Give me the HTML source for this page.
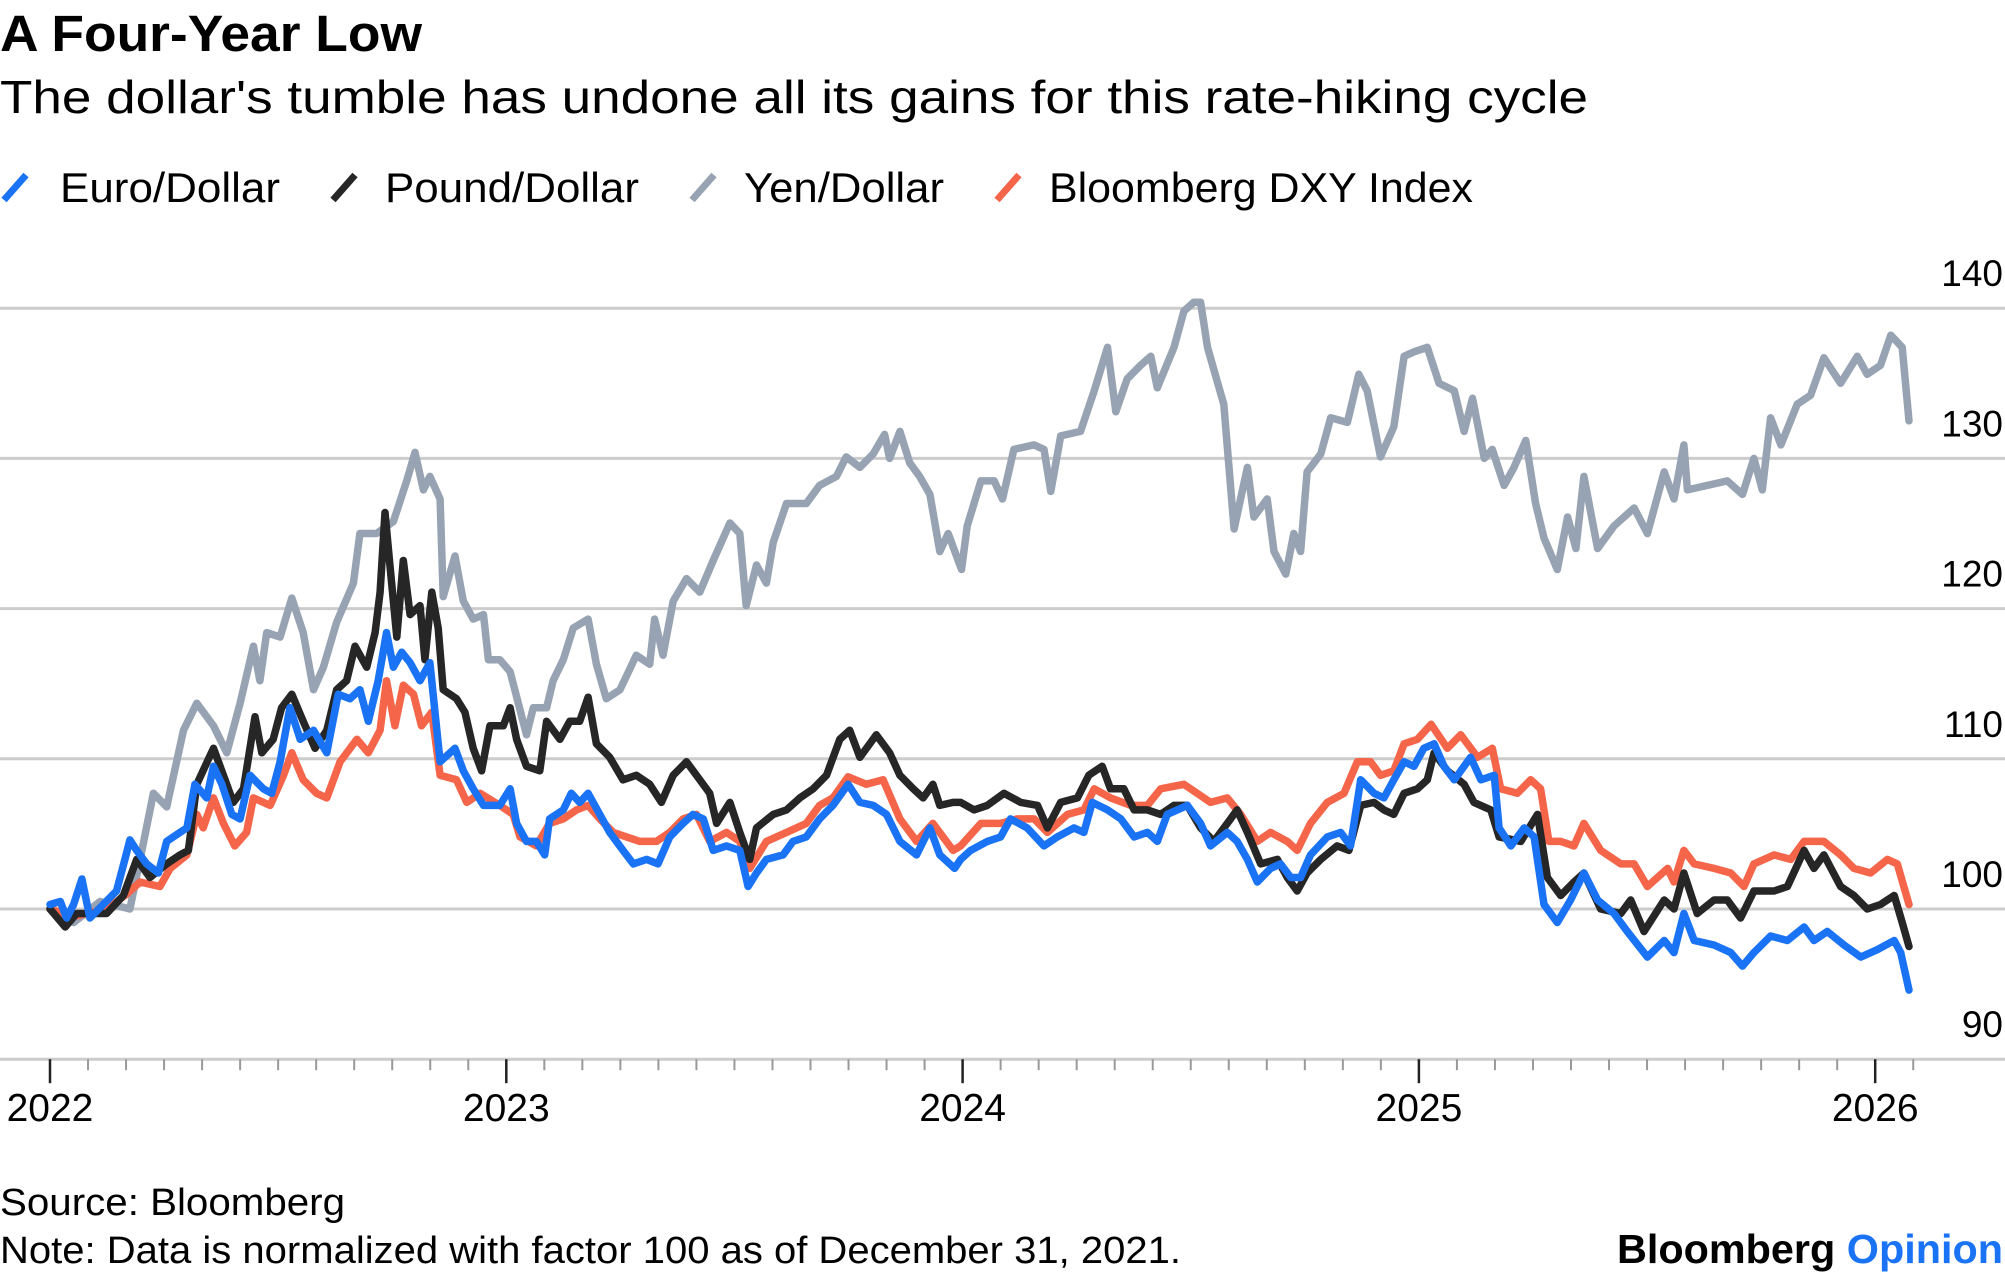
<!DOCTYPE html>
<html><head><meta charset="utf-8"><title>A Four-Year Low</title>
<style>
html,body{margin:0;padding:0;background:#fff;}
svg{display:block;font-family:"Liberation Sans",Arial,sans-serif;}
</style></head>
<body>
<svg id="chart" width="2005" height="1278" viewBox="0 0 2005 1278" xmlns="http://www.w3.org/2000/svg">
  <text x="0" y="51" font-size="51" font-weight="bold" fill="#000" textLength="422" lengthAdjust="spacingAndGlyphs">A Four-Year Low</text>
  <text x="0" y="113" font-size="46" fill="#000" textLength="1588" lengthAdjust="spacingAndGlyphs">The dollar's tumble has undone all its gains for this rate-hiking cycle</text>
  <g>
    <g>
      <line x1="4" y1="200" x2="26" y2="175" stroke="#1a73f5" stroke-width="7" stroke-linecap="butt"/>
      <text x="60" y="202" font-size="42" textLength="220" lengthAdjust="spacingAndGlyphs">Euro/Dollar</text>
    </g>
    <g>
      <line x1="333" y1="200" x2="355" y2="175" stroke="#262626" stroke-width="7"/>
      <text x="385" y="202" font-size="42" textLength="254" lengthAdjust="spacingAndGlyphs">Pound/Dollar</text>
    </g>
    <g>
      <line x1="692" y1="200" x2="714" y2="175" stroke="#97a3b2" stroke-width="7"/>
      <text x="744" y="202" font-size="42" textLength="200" lengthAdjust="spacingAndGlyphs">Yen/Dollar</text>
    </g>
    <g>
      <line x1="997" y1="200" x2="1019" y2="175" stroke="#f5654a" stroke-width="7"/>
      <text x="1049" y="202" font-size="42" textLength="424" lengthAdjust="spacingAndGlyphs">Bloomberg DXY Index</text>
    </g>
  </g>
  <g id="grid"></g>
  <g id="yaxis"></g>
  <g id="xaxis"></g>
  <g id="series"></g>
  <text x="0" y="1215" font-size="38" textLength="345" lengthAdjust="spacingAndGlyphs">Source: Bloomberg</text>
  <text x="0" y="1263" font-size="38" textLength="1181" lengthAdjust="spacingAndGlyphs">Note: Data is normalized with factor 100 as of December 31, 2021.</text>
  <text x="1617" y="1263" font-size="41" font-weight="bold" textLength="386" lengthAdjust="spacingAndGlyphs">Bloomberg <tspan fill="#1a73f5">Opinion</tspan></text>
</svg>
<script>
// ---- data (months since Jan 1 2022, index value) ----
const yTicks = [90, 100, 110, 120, 130, 140];
const yearLabels = ["2022", "2023", "2024", "2025", "2026"];
const yenMonths = [0,0.62,1.32,2.1,2.37,2.72,3.07,3.51,3.86,4.3,4.65,5.0,5.35,5.52,5.7,6.05,6.36,6.66,6.93,7.19,7.54,7.98,8.15,8.59,9.03,9.38,9.6,9.82,9.99,10.26,10.34,10.65,10.87,11.13,11.4,11.53,11.83,12.1,12.53,12.71,13.06,13.23,13.5,13.76,14.15,14.37,14.63,14.99,15.42,15.77,15.9,16.12,16.39,16.74,17.09,17.44,17.88,18.14,18.31,18.58,18.84,19.02,19.37,19.89,20.24,20.68,20.94,21.3,21.65,21.95,22.08,22.35,22.61,22.87,23.14,23.4,23.62,23.97,24.12,24.48,24.83,25.05,25.35,25.88,26.14,26.32,26.58,27.1,27.46,27.81,28.03,28.33,28.68,28.95,29.12,29.56,29.82,30.08,30.26,30.44,30.61,30.87,31.14,31.49,31.66,32.01,32.19,32.5,32.71,32.89,33.06,33.42,33.68,34.12,34.42,34.64,34.99,35.34,35.61,35.87,36.22,36.53,36.93,37.19,37.41,37.72,37.93,38.24,38.5,38.81,39.07,39.29,39.64,39.91,40.13,40.34,40.7,41.13,41.66,42.01,42.45,42.71,42.97,43.06,43.59,44.11,44.51,44.81,45.03,45.25,45.52,45.95,46.3,46.65,47.09,47.53,47.79,48.14,48.41,48.71,48.89];
const yenValues = [100,99.1,100.5,100,103.3,107.7,106.8,111.9,113.7,112.2,110.4,113.7,117.5,115.2,118.4,118.1,120.7,118.4,114.6,116.1,119.1,121.7,125,125,125.8,128.5,130.4,127.9,128.8,127.3,120.8,123.5,120.5,119.3,119.6,116.6,116.6,115.8,111.6,113.4,113.4,115.2,116.6,118.7,119.3,116.3,114,114.6,116.9,116.3,119.3,116.9,120.5,122,121.1,123.2,125.7,125,120.2,122.9,121.7,124.4,127,127,128.2,128.8,130.1,129.4,130.3,131.6,130,131.8,129.7,128.8,127.6,123.8,125,122.6,125.5,128.5,128.5,127.3,130.6,130.9,130.6,127.8,131.5,131.8,134.5,137.4,133.1,135.3,136.2,136.8,134.7,137.4,139.8,140.4,140.4,137.4,135.9,133.6,125.3,129.4,126.1,127.3,123.8,122.3,125,123.8,129.1,130.3,132.7,132.4,135.6,134.5,130.1,132.1,136.8,137.1,137.4,135,134.5,131.8,134,130,130.6,128.2,129.4,131.2,127,124.7,122.6,126.1,124,128.8,124,125.5,126.7,125,129.1,127.3,130.9,127.9,128.2,128.5,127.6,130,127.9,132.7,130.9,133.6,134.2,136.7,135,136.8,135.6,136.2,138.2,137.4,132.5];
const euroMonths = [0,0.27,0.44,0.62,0.84,1.05,1.4,1.75,1.97,2.1,2.28,2.54,2.85,3.07,3.42,3.6,3.81,4.12,4.3,4.52,4.78,5.0,5.26,5.61,5.83,6.05,6.31,6.58,6.93,7.28,7.58,7.89,8.15,8.37,8.63,8.85,9.03,9.25,9.47,9.73,9.99,10.26,10.65,10.87,11.13,11.4,11.83,12.1,12.27,12.53,12.79,13.01,13.14,13.5,13.71,13.93,14.15,14.46,14.72,15.07,15.34,15.69,15.99,16.3,16.65,16.91,17.18,17.44,17.79,18.14,18.36,18.58,18.84,19.28,19.54,19.89,20.24,20.59,20.99,21.3,21.65,22.0,22.35,22.79,23.14,23.4,23.79,23.95,24.21,24.65,25.0,25.26,25.7,26.14,26.49,26.93,27.19,27.41,27.81,28.16,28.51,28.86,29.12,29.38,29.91,30.26,30.52,30.96,31.22,31.49,31.75,32.1,32.36,32.63,32.89,33.15,33.59,33.94,34.2,34.47,34.82,35.08,35.34,35.61,35.87,36.13,36.4,36.66,36.93,37.36,37.63,37.98,38.11,38.42,38.77,39.03,39.29,39.64,39.99,40.34,40.7,41.13,41.48,42.01,42.45,42.71,42.97,43.24,43.76,44.2,44.51,44.81,45.25,45.69,46.13,46.39,46.74,47.18,47.62,48.06,48.5,48.67,48.89];
const euroValues = [100.3,100.5,99.4,100.3,102,99.4,100.3,101.2,103.3,104.6,103.9,103,102.4,104.5,105.1,105.4,108.3,107.4,109.5,108.3,106.3,106,108.9,108,107.7,109.8,113.4,111.3,111.9,110.4,114.3,114,114.6,112.5,115.2,118.4,116.1,117.1,116.4,115.2,116.4,109.8,110.7,109.2,108,106.9,106.9,108,105.7,104.5,104.5,103.6,106,106.6,107.7,107.1,107.7,106.3,105.1,103.9,103,103.3,103,104.8,105.7,106.3,106,103.9,104.2,103.9,101.5,102.4,103.3,103.6,104.5,104.8,106,106.9,108.3,107.1,106.9,106.3,104.5,103.6,105.4,103.6,102.7,103.3,103.9,104.5,104.8,106,105.4,104.2,104.8,105.4,105.1,107.1,106.6,106,104.8,105.1,104.5,106.3,106.9,105.7,104.2,105.1,104.5,103.3,101.8,102.7,103,102.1,102.1,103.6,104.8,105.1,104.2,108.6,107.7,107.4,108.6,109.8,109.5,110.7,111,109.5,108.6,110.1,108.6,108.9,105.4,104.2,105.4,104.8,100.3,99.1,100.6,102.4,100.6,99.7,98.5,96.8,97.9,97.1,99.7,97.9,97.6,97.1,96.2,97.1,98.2,97.9,98.8,97.9,98.5,97.6,96.8,97.3,97.9,97.1,94.6];
const poundMonths = [0,0.4,0.7,1.05,1.49,1.93,2.28,2.63,3.07,3.42,3.64,3.86,4.08,4.3,4.56,4.82,5.09,5.39,5.57,5.87,6.09,6.36,6.66,6.97,7.28,7.54,7.8,8.02,8.33,8.55,8.68,8.81,8.94,9.12,9.29,9.47,9.73,9.86,10.04,10.21,10.34,10.69,10.91,11.13,11.35,11.57,11.92,12.1,12.27,12.53,12.88,13.06,13.41,13.67,13.93,14.15,14.37,14.72,15.07,15.42,15.77,16.08,16.39,16.74,17.09,17.35,17.53,17.88,18.14,18.4,18.58,19.02,19.37,19.72,20.07,20.42,20.77,21.03,21.3,21.73,22.08,22.35,22.7,22.96,23.22,23.4,23.75,23.95,24.3,24.65,25.09,25.53,25.97,26.23,26.58,27.02,27.32,27.67,27.89,28.24,28.51,28.86,29.21,29.56,29.91,30.26,30.61,30.96,31.22,31.49,31.84,32.28,32.54,32.8,33.06,33.42,33.85,34.16,34.47,34.82,35.08,35.34,35.61,35.96,36.22,36.4,36.75,37.19,37.45,37.89,38.11,38.68,39.12,39.38,39.73,40.08,40.34,40.78,41.31,41.57,41.92,42.45,42.71,42.97,43.32,43.76,44.11,44.46,44.81,45.34,45.69,46.13,46.39,46.65,47.09,47.44,47.79,48.14,48.5,48.71,48.89];
const poundValues = [100,98.8,99.7,99.7,99.7,100.9,103.3,102.1,103,103.6,103.9,108.3,109.5,110.7,108.9,107.1,108,112.8,110.4,111.3,113.4,114.3,112.5,110.7,111.9,114.6,115.2,117.5,116.1,118.4,121.1,126.4,122.9,118.1,123.2,119.6,120.2,116.6,121.1,118.7,114.6,114,113.1,110.7,109.2,112.2,112.2,113.4,111.3,109.5,109.2,112.5,111.3,112.5,112.5,114.1,111,110.1,108.6,108.9,108.3,107.1,108.9,109.8,108.6,107.7,105.7,107.1,105.1,103.3,105.4,106.3,106.6,107.4,108,108.9,111.3,111.9,110.1,111.6,110.4,108.9,108,107.4,108.3,106.9,107.1,107.1,106.6,106.9,107.7,107.1,106.9,105.4,107.1,107.4,108.9,109.5,108,108,106.6,106.6,106.3,106.9,106.9,105.4,104.5,105.7,106.6,105.1,103,103.3,102.1,101.2,102.4,103.3,104.2,103.9,106.9,107.1,106.6,106.3,107.7,108,108.6,110.4,109.2,108.3,107.1,106.6,104.8,104.5,106.3,102.1,100.9,101.8,102.4,100,99.7,100.6,98.5,100.6,100,102.4,99.7,100.6,100.6,99.4,101.2,101.2,101.5,103.9,102.7,103.6,101.5,100.9,100,100.3,100.9,99.1,97.5];
const dxyMonths = [0,0.62,1.49,2.02,2.37,2.89,3.16,3.6,3.86,4.03,4.3,4.56,4.86,5.17,5.35,5.79,6.14,6.36,6.66,7.01,7.28,7.63,8.07,8.37,8.68,8.85,9.07,9.29,9.56,9.77,10.04,10.26,10.69,10.96,11.31,11.83,12.18,12.36,12.79,13.14,13.5,13.85,14.15,14.46,14.81,15.16,15.51,15.95,16.3,16.65,17.0,17.35,17.79,18.14,18.4,18.84,19.37,19.89,20.24,20.59,20.99,21.47,21.91,22.35,22.79,23.22,23.75,23.95,24.48,25.0,25.44,25.88,26.23,26.76,27.19,27.46,27.89,28.42,28.86,29.21,29.82,30.17,30.52,30.96,31.31,31.75,32.1,32.54,32.8,33.15,33.59,34.03,34.38,34.73,34.99,35.34,35.61,35.96,36.32,36.75,37.1,37.54,37.93,38.15,38.59,38.94,39.2,39.42,39.73,40.08,40.34,40.78,41.31,41.66,42.01,42.54,42.71,42.97,43.24,43.76,44.2,44.55,44.81,45.34,45.78,46.13,46.65,47.09,47.44,47.88,48.32,48.58,48.89];
const dxyValues = [100,99.5,100,101,101.8,101.5,102.7,103.6,106.3,105.4,107.4,105.7,104.2,105.1,107.4,106.9,108.9,110.4,108.6,107.7,107.4,109.8,111.3,110.4,111.9,115.2,112.2,114.9,114.3,112.2,113.1,108.9,108.6,107.1,107.7,106.9,106.3,104.8,104.2,105.7,106,106.6,106.9,106,105.1,104.8,104.5,104.5,105.1,106,106.3,104.5,105.1,104.5,102.7,104.5,105.1,105.7,106.9,107.4,108.8,108.3,108.6,106,104.5,105.7,103.9,104.2,105.7,105.7,106,106,105.1,106.3,106.6,108,107.4,106.9,106.9,108,108.3,107.7,107.1,107.4,106.3,104.5,105.1,104.5,103.9,105.7,107.1,107.7,109.8,109.8,108.9,109.2,111,111.3,112.3,110.7,111.6,110.1,110.7,108,107.7,108.6,108,104.5,104.5,104.2,105.7,103.9,103,103,101.5,102.7,101.8,103.9,103,102.7,102.4,101.5,103,103.6,103.3,104.5,104.5,103.6,102.7,102.4,103.3,103,100.3];

// ---- scales ----
const X0 = 50, PX_PER_MONTH = 456.3 / 12;
const Y100 = 909, PX_PER_UNIT = 15.02;
function xScale(m) { return X0 + m * PX_PER_MONTH; }
function yScale(v) { return Y100 - (v - 100) * PX_PER_UNIT; }
const NS = "http://www.w3.org/2000/svg";
function mk(tag, attrs) { const e = document.createElementNS(NS, tag); for (const k in attrs) e.setAttribute(k, attrs[k]); return e; }

// gridlines + y labels
const grid = document.getElementById('grid');
const yaxis = document.getElementById('yaxis');
yTicks.forEach(function (t) {
  const y = yScale(t);
  const ln = mk('line', { x1: 0, x2: 2005, y1: y, y2: y, stroke: '#cccccc', 'stroke-width': 3 });
  
  
  grid.appendChild(ln);
  const tx = mk('text', { x: 2003, y: y - 22, 'font-size': 37, 'text-anchor': 'end', fill: '#000' });
  tx.textContent = String(t);
  
  
  yaxis.appendChild(tx);
});

// x ticks
const xaxis = document.getElementById('xaxis');
const yBase = yScale(90);
for (let m = 0; m <= 49; m++) {
  const major = m % 12 === 0;
  const x = xScale(m);
  const tk = mk('line', { x1: x, x2: x, y1: yBase, y2: yBase + (major ? 24 : 11), stroke: major ? '#222' : '#999', 'stroke-width': major ? 2.5 : 2 });
  
  
  xaxis.appendChild(tk);
}
yearLabels.forEach(function (lab, i) {
  const tx = mk('text', { x: xScale(i * 12), y: 1121, 'font-size': 39, 'text-anchor': 'middle', fill: '#000' });
  tx.textContent = lab;
  
  
  xaxis.appendChild(tx);
});

// series
const seriesG = document.getElementById('series');
function drawLine(months, values, color, name) {
  let d = '';
  for (let i = 0; i < months.length; i++) {
    d += (i ? 'L' : 'M') + xScale(months[i]).toFixed(1) + ',' + yScale(values[i]).toFixed(1);
  }
  const p = mk('path', { d: d, fill: 'none', stroke: color, 'stroke-width': 7.5, 'stroke-linejoin': 'round', 'stroke-linecap': 'round' });
  
  
  seriesG.appendChild(p);
}
drawLine(yenMonths, yenValues, '#97a3b2', 'yen-dollar-line');
drawLine(dxyMonths, dxyValues, '#f5654a', 'dxy-index-line');
drawLine(poundMonths, poundValues, '#262626', 'pound-dollar-line');
drawLine(euroMonths, euroValues, '#1a73f5', 'euro-dollar-line');
</script>
</body></html>
